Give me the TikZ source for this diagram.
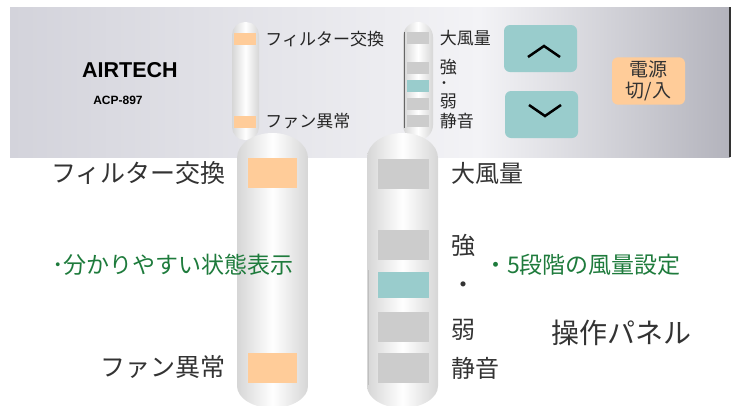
\documentclass[tikz,border=0pt]{standalone}
\usepackage{fontspec}
\usepackage{tikz}
\usetikzlibrary{positioning}
\setmainfont{Noto Sans CJK JP}
\newfontfamily\brandfont{Liberation Sans}

\definecolor{peach}{HTML}{FFCC99}
\definecolor{ledgray}{HTML}{CCCCCC}
\definecolor{btnteal}{HTML}{99CCCC}
\definecolor{notegreen}{HTML}{1E7B3C}
\definecolor{panelL}{HTML}{D3D3DB}
\definecolor{panelM}{HTML}{F3F3F6}
\definecolor{panelR}{HTML}{B3B3BC}
\definecolor{tubeedge}{HTML}{D6D6D6}

\begin{document}
\begin{tikzpicture}[x=1pt, y=-1pt,
    tube/.style={left color=tubeedge, right color=tubeedge, middle color=white},
    smallled/.style={inner sep=0, minimum width=22pt, minimum height=12pt},
    bigled/.style={inner sep=0, minimum width=51pt, minimum height=30pt},
    smalltxt/.style={inner sep=0, text=black!85, font=\fontsize{17}{17}\selectfont},
    bigtxt/.style={inner sep=0, text=black!80, font=\fontsize{24}{24}\selectfont},
    notetxt/.style={inner sep=0, text=notegreen, font=\fontsize{23}{23}\selectfont},
    btn/.style={fill=btnteal, rounded corners=6pt, minimum width=73pt, minimum height=47pt},
    chev/.style={line width=2.5pt, black}]
    \useasboundingbox (0,0) rectangle (741,405);
    \clip (0,0) rectangle (741,405);

    % Panel
    \shade[left color=panelL, right color=panelM] (10,7) rectangle (480,157);
    \shade[left color=panelM, right color=panelR] (480,7) rectangle (730,157);
    \draw[line width=1.5pt, black!80] (730,7) -- (730,157);

    % Brand
    \node[inner sep=0, font=\brandfont\bfseries\fontsize{21.5}{22}\selectfont] (brand) at (130,70) {AIRTECH};
    \node[inner sep=0, font=\brandfont\bfseries\fontsize{12}{12}\selectfont] (model) at (118,100) {ACP-897};

    % Small status strip
    \shade[tube, rounded corners=13pt] (232,22) rectangle (259,140);
    \node[smallled, fill=peach] (sfilter) at (245,39) {};
    \node[smallled, fill=peach] (sfan) at (245,121.5) {};
    \node[smalltxt, right=9pt of sfilter] (sfilterlbl) {フィルター交換};
    \node[smalltxt, right=9pt of sfan] (sfanlbl) {ファン異常};

    % Small fan strip
    \shade[tube, rounded corners=15pt] (403,22) rectangle (433,140);
    \draw[black!60] (404.5,32) -- (404.5,128);
    \node[smallled, fill=ledgray] (smax) at (417.5,38) {};
    \node[smallled, fill=ledgray] (shigh) at (417.5,67.5) {};
    \node[smallled, fill=btnteal] (smid) at (417.5,85.5) {};
    \node[smallled, fill=ledgray] (slow) at (417.5,103.5) {};
    \node[smallled, fill=ledgray] (squiet) at (417.5,121) {};
    \node[smalltxt, right=11pt of smax] (smaxlbl) {大風量};
    \node[smalltxt, right=11pt of shigh] (shighlbl) {強};
    \node[smalltxt, right=11pt of smid] (smidlbl) {･};
    \node[smalltxt, right=11pt of slow, yshift=2.5pt] (slowlbl) {弱};
    \node[smalltxt, right=11pt of squiet] (squietlbl) {静音};

    % Buttons
    \node[btn] (up) at (540.5,48.5) {};
    \draw[chev] (528,57) -- (544,46) -- (560,57);
    \node[btn] (down) at (541.5,114.5) {};
    \draw[chev] (529,105) -- (545,116) -- (561,105);
    \node[btn, fill=peach, minimum height=46pt, align=center, text=black!80,
          font=\fontsize{19}{21.5}\selectfont] (power) at (648.5,81) {電源\\切/入};

    % Big status strip
    \shade[tube] (237,386) -- (237,158) arc[start angle=180, end angle=360, x radius=35.5, y radius=25]
        -- (308,386) arc[start angle=0, end angle=180, x radius=35.5, y radius=22] -- cycle;
    \node[bigled, minimum width=49pt, fill=peach] (bfilter) at (272.5,173) {};
    \node[bigled, minimum width=49pt, fill=peach] (bfan) at (272.5,367.5) {};
    \node[bigtxt, font=\fontsize{25}{25}\selectfont, left=22pt of bfilter] (bfilterlbl) {フィルター交換};
    \node[bigtxt, font=\fontsize{25}{25}\selectfont, left=22pt of bfan] (bfanlbl) {ファン異常};

    % Big fan strip
    \shade[tube] (367,386) -- (367,158) arc[start angle=180, end angle=360, x radius=35.5, y radius=25]
        -- (438,386) arc[start angle=0, end angle=180, x radius=35.5, y radius=22] -- cycle;
    \draw[black!25] (368.5,270) -- (368.5,385);
    \node[bigled, fill=ledgray] (bmax) at (403,173.5) {};
    \node[bigled, fill=ledgray] (bhigh) at (403,245) {};
    \node[bigled, minimum height=26pt, fill=btnteal] (bmid) at (403,285) {};
    \node[bigled, fill=ledgray] (blow) at (403,327) {};
    \node[bigled, fill=ledgray] (bquiet) at (403,368) {};
    \node[bigtxt, right=23pt of bmax] (bmaxlbl) {大風量};
    \node[bigtxt, right=23pt of bhigh] (bhighlbl) {強};
    \node[bigtxt, right=23pt of bmid, yshift=-3pt] (bmidlbl) {・};
    \node[bigtxt, right=23pt of blow, yshift=-3pt] (blowlbl) {弱};
    \node[bigtxt, right=23pt of bquiet] (bquietlbl) {静音};

    % Notes
    \node[notetxt, anchor=west] (note1) at (52,265) {･分かりやすい状態表示};
    \node[notetxt, anchor=west] (note2) at (484,265) {・5段階の風量設定};
    \node[inner sep=0, text=black!80, font=\fontsize{28}{28}\selectfont, anchor=west] (title) at (551,333) {操作パネル};
\end{tikzpicture}
\end{document}
